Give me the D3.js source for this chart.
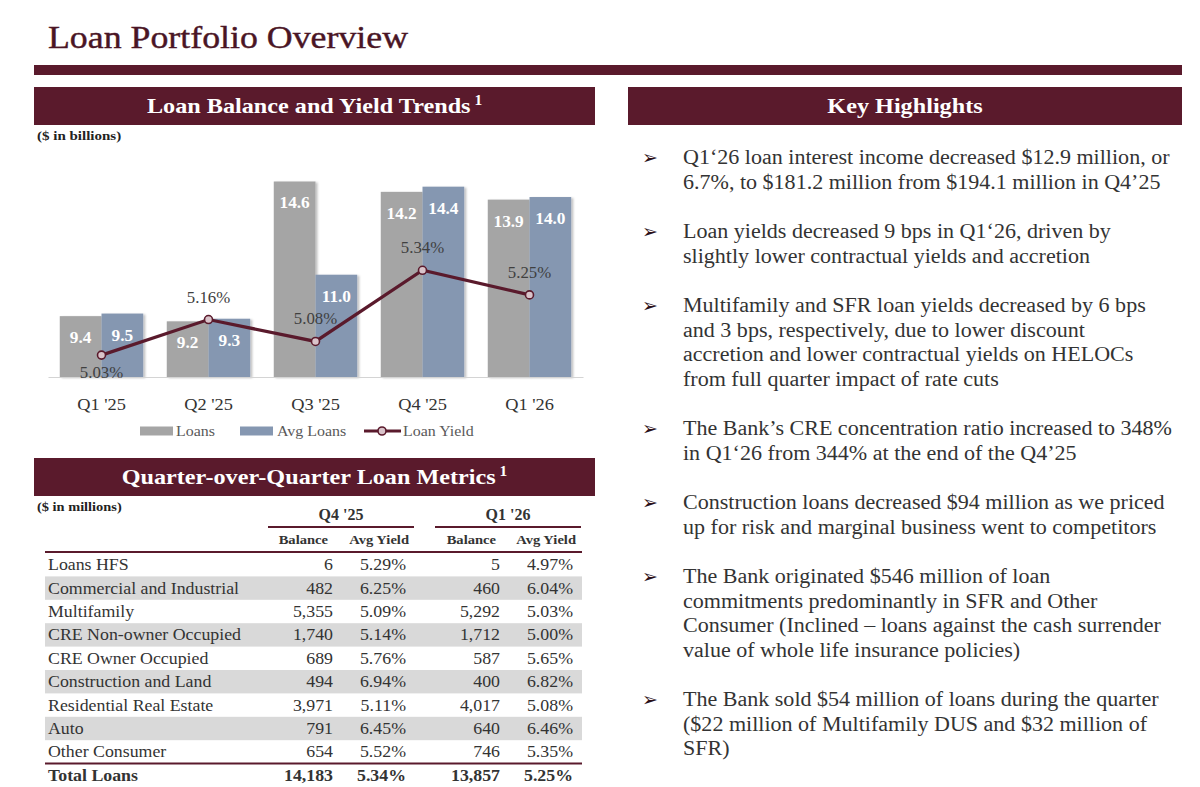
<!DOCTYPE html>
<html>
<head>
  <meta charset="utf-8">
  <title>Loan Portfolio Overview</title>
  <style>
  body { margin: 0; background: #fff; }
  svg { display: block; font-family: "Liberation Serif", "DejaVu Serif", serif; }
  .hdr { fill: #5a1a2c; }
  .hdr-text { fill: #fff; font-weight: bold; font-size: 22px; text-anchor: middle; }
  </style>
</head>
<body>
  <div id="page"></div>
  <script src="https://d3js.org/d3.v7.min.js"></script>
  <script>
    // chart data
    var quarters = ["Q1 '25", "Q2 '25", "Q3 '25", "Q4 '25", "Q1 '26"];
    var loans = [9.4, 9.2, 14.6, 14.2, 13.9];
    var avgLoans = [9.5, 9.3, 11.0, 14.4, 14.0];
    var loanYield = [5.03, 5.16, 5.08, 5.34, 5.25];

    // table data
    var rowLabels = ["Loans HFS", "Commercial and Industrial", "Multifamily", "CRE Non-owner Occupied",
      "CRE Owner Occupied", "Construction and Land", "Residential Real Estate", "Auto", "Other Consumer"];
    var q4Balance = [6, 482, 5355, 1740, 689, 494, 3971, 791, 654];
    var q4Yield = [5.29, 6.25, 5.09, 5.14, 5.76, 6.94, 5.11, 6.45, 5.52];
    var q1Balance = [5, 460, 5292, 1712, 587, 400, 4017, 640, 746];
    var q1Yield = [4.97, 6.04, 5.03, 5.00, 5.65, 6.82, 5.08, 6.46, 5.35];
    var totalRow = ["Total Loans", 14183, 5.34, 13857, 5.25];

    var highlights = [
      ["Q1\u201826 loan interest income decreased $12.9 million, or",
       "6.7%, to $181.2 million from $194.1 million in Q4\u201925"],
      ["Loan yields decreased 9 bps in Q1\u201826, driven by",
       "slightly lower contractual yields and accretion"],
      ["Multifamily and SFR loan yields decreased by 6 bps",
       "and 3 bps, respectively, due to lower discount",
       "accretion and lower contractual yields on HELOCs",
       "from full quarter impact of rate cuts"],
      ["The Bank\u2019s CRE concentration ratio increased to 348%",
       "in Q1\u201826 from 344% at the end of the Q4\u201925"],
      ["Construction loans decreased $94 million as we priced",
       "up for risk and marginal business went to competitors"],
      ["The Bank originated $546 million of loan",
       "commitments predominantly in SFR and Other",
       "Consumer (Inclined \u2013 loans against the cash surrender",
       "value of whole life insurance policies)"],
      ["The Bank sold $54 million of loans during the quarter",
       "($22 million of Multifamily DUS and $32 million of",
       "SFR)"]
    ];

    var maroon = "#5a1a2c";
    var grayBar = "#a5a5a5";
    var blueBar = "#8597b1";

    // the original face is a wide Palatino-like serif; widen Liberation Serif a bit
    function wide(sel, f) {
      sel.each(function() {
        var w = this.getComputedTextLength();
        d3.select(this).attr("textLength", w * f).attr("lengthAdjust", "spacingAndGlyphs");
      });
    }

    var svg = d3.select("#page").append("svg")
        .attr("width", 1200).attr("height", 787);

    var defs = svg.append("defs");
    defs.append("filter").attr("id", "shadow")
        .attr("x", "-10%").attr("y", "-10%").attr("width", "130%").attr("height", "130%")
      .append("feDropShadow")
        .attr("dx", 2).attr("dy", 1).attr("stdDeviation", 1)
        .attr("flood-color", "#000").attr("flood-opacity", 0.25);

    // page title + rule
    svg.append("text")
        .attr("x", 48).attr("y", 48)
        .attr("font-size", 31)
        .attr("fill", "#4a1525")
        .attr("stroke", "#4a1525").attr("stroke-width", 0.4)
        .attr("textLength", 360).attr("lengthAdjust", "spacingAndGlyphs")
        .text("Loan Portfolio Overview");
    svg.append("rect").attr("class", "hdr")
        .attr("x", 34).attr("y", 65).attr("width", 1148).attr("height", 10);

    function header(x, w, label) {
      svg.append("rect").attr("class", "hdr")
          .attr("x", x).attr("y", label.y).attr("width", w).attr("height", 38);
      var t = svg.append("text").attr("class", "hdr-text")
          .attr("x", x + w / 2).attr("y", label.y + 26);
      t.text(label.text);
      if (label.sup) {
        t.append("tspan").attr("font-size", 14).attr("dy", -8).text(" " + label.sup);
      }
      wide(t, 1.1);
    }

    header(34, 561, {y: 87, text: "Loan Balance and Yield Trends", sup: "1"});
    header(628, 554, {y: 87, text: "Key Highlights"});
    header(34, 561, {y: 458, text: "Quarter-over-Quarter Loan Metrics", sup: "1"});

    svg.append("text")
        .attr("x", 37).attr("y", 140)
        .attr("font-size", 12.5).attr("font-weight", "bold").attr("fill", "#222")
        .text("($ in billions)")
        .call(wide, 1.2);

    // ---------- bar + line chart ----------
    var x0 = d3.scaleBand()
        .domain(quarters)
        .range([48, 583])
        .paddingInner(0.22)
        .paddingOuter(0.11);

    var x1 = d3.scaleBand()
        .domain(["loans", "avg"])
        .range([0, x0.bandwidth()]);

    var y = d3.scaleLinear()
        .domain([7.05, 15.43])
        .range([377, 160]);

    var y2 = d3.scaleLinear()
        .domain([4.95, 5.743])
        .range([377, 160]);

    var chart = svg.append("g");

    var groups = chart.selectAll("g.grp")
      .data(quarters.map(function(q, i) {
        return {q: q, values: [{k: "loans", v: loans[i]}, {k: "avg", v: avgLoans[i]}]};
      }))
      .enter().append("g")
        .attr("class", "grp")
        .attr("transform", function(d) { return "translate(" + x0(d.q) + ",0)"; });

    groups.selectAll("rect")
      .data(function(d) { return d.values; })
      .enter().append("rect")
        .attr("x", function(d) { return x1(d.k); })
        .attr("y", function(d) { return y(d.v); })
        .attr("width", x1.bandwidth())
        .attr("height", function(d) { return y(y.domain()[0]) - y(d.v); })
        .attr("fill", function(d) { return d.k === "loans" ? grayBar : blueBar; })
        .attr("filter", "url(#shadow)");

    groups.selectAll("text")
      .data(function(d) { return d.values; })
      .enter().append("text")
        .attr("x", function(d) { return x1(d.k) + x1.bandwidth() / 2; })
        .attr("y", function(d) { return y(d.v) + 27; })
        .attr("text-anchor", "middle")
        .attr("font-size", 16)
        .attr("font-weight", "bold")
        .attr("fill", "#fff")
        .text(function(d) { return d.v.toFixed(1); })
        .call(wide, 1.08);

    var xAxis = chart.append("g")
        .attr("transform", "translate(0," + y.range()[0] + ")")
        .call(d3.axisBottom(x0).tickSize(0).tickPadding(21));
    xAxis.select(".domain").attr("stroke", "#d4d4d4").attr("stroke-width", 1.2);
    xAxis.selectAll("text")
        .attr("font-family", "Liberation Serif, serif")
        .attr("font-size", 17)
        .attr("fill", "#333")
        .call(wide, 1.08);

    var line = d3.line()
        .x(function(d, i) { return x0(quarters[i]) + x0.bandwidth() / 2; })
        .y(function(d) { return y2(d); });

    chart.append("path")
        .datum(loanYield)
        .attr("d", line)
        .attr("fill", "none")
        .attr("stroke", "#5a1a2c")
        .attr("stroke-width", 3.2);

    chart.selectAll("circle.pt")
      .data(loanYield)
      .enter().append("circle")
        .attr("class", "pt")
        .attr("cx", function(d, i) { return x0(quarters[i]) + x0.bandwidth() / 2; })
        .attr("cy", function(d) { return y2(d); })
        .attr("r", 4)
        .attr("fill", "#d9c3ca")
        .attr("stroke", "#5a1a2c")
        .attr("stroke-width", 1.6);

    chart.selectAll("text.yl")
      .data(loanYield)
      .enter().append("text")
        .attr("class", "yl")
        .attr("x", function(d, i) { return x0(quarters[i]) + x0.bandwidth() / 2; })
        .attr("y", function(d, i) { return i === 0 ? y2(d) + 23 : y2(d) - 17; })
        .attr("text-anchor", "middle")
        .attr("font-size", 16)
        .attr("fill", "#404040")
        .text(function(d) { return d.toFixed(2) + "%"; })
        .call(wide, 1.05);

    // legend
    var legend = chart.append("g").attr("transform", "translate(0,431)");
    legend.append("rect").attr("x", 140).attr("y", -4.5).attr("width", 33).attr("height", 9).attr("fill", grayBar);
    legend.append("rect").attr("x", 240).attr("y", -4.5).attr("width", 33).attr("height", 9).attr("fill", blueBar);
    legend.append("line").attr("x1", 364).attr("x2", 401).attr("y1", 0).attr("y2", 0)
        .attr("stroke", "#5a1a2c").attr("stroke-width", 3);
    legend.append("circle").attr("cx", 382).attr("cy", 0).attr("r", 4)
        .attr("fill", "#d9c3ca").attr("stroke", "#5a1a2c").attr("stroke-width", 1.6);
    legend.selectAll("text")
      .data([[176, "Loans"], [277, "Avg Loans"], [403, "Loan Yield"]])
      .enter().append("text")
        .attr("x", function(d) { return d[0]; })
        .attr("y", 5)
        .attr("font-size", 14.5)
        .attr("fill", "#595959")
        .text(function(d) { return d[1]; })
        .call(wide, 1.1);

    // ---------- table ----------
    var table = svg.append("g");
    var fmtInt = d3.format(",");
    var fmtPct = function(v) { return v.toFixed(2) + "%"; };

    table.append("text")
        .attr("x", 37).attr("y", 511)
        .attr("font-size", 12.5).attr("font-weight", "bold").attr("fill", "#222")
        .text("($ in millions)")
        .call(wide, 1.15);

    var rowY = d3.scaleBand()
        .domain(d3.range(rowLabels.length + 1))
        .range([553, 787]);

    // shaded rows
    table.selectAll("rect.band")
      .data(rowLabels.map(function(d, i) { return i; }).filter(function(i) { return i % 2 === 1; }))
      .enter().append("rect")
        .attr("x", 45).attr("width", 537)
        .attr("y", function(i) { return rowY(i); })
        .attr("height", rowY.bandwidth())
        .attr("fill", "#d9d9d9");

    // column groups
    [["Q4 '25", 268, 414, 328, 409], ["Q1 '26", 435, 581, 496, 576]].forEach(function(g) {
      table.append("text")
          .attr("x", (g[1] + g[2]) / 2).attr("y", 520)
          .attr("text-anchor", "middle").attr("font-size", 16).attr("font-weight", "bold")
          .attr("fill", "#333").text(g[0]);
      table.append("line")
          .attr("x1", g[1]).attr("x2", g[2]).attr("y1", 527).attr("y2", 527)
          .attr("stroke", maroon).attr("stroke-width", 2);
      table.append("text")
          .attr("x", g[3]).attr("y", 544)
          .attr("text-anchor", "end").attr("font-size", 13).attr("font-weight", "bold")
          .attr("fill", "#333").text("Balance")
          .call(wide, 1.12);
      table.append("text")
          .attr("x", g[4]).attr("y", 544)
          .attr("text-anchor", "end").attr("font-size", 13).attr("font-weight", "bold")
          .attr("fill", "#333").text("Avg Yield")
          .call(wide, 1.12);
    });

    table.append("line")
        .attr("x1", 45).attr("x2", 582).attr("y1", 552).attr("y2", 552)
        .attr("stroke", maroon).attr("stroke-width", 2);

    var rows = rowLabels.map(function(label, i) {
      return [label, q4Balance[i], q4Yield[i], q1Balance[i], q1Yield[i]];
    });
    rows.push(totalRow);

    var colX = [48, 333, 406, 500, 573];

    var rowG = table.selectAll("g.row")
      .data(rows)
      .enter().append("g")
        .attr("class", "row")
        .attr("transform", function(d, i) { return "translate(0," + (rowY(i) + rowY.bandwidth() / 2 + 5.5) + ")"; })
        .attr("font-weight", function(d, i) { return i === rows.length - 1 ? "bold" : "normal"; });

    rowG.selectAll("text")
      .data(function(d) {
        return d.map(function(v, j) {
          return {j: j, t: j === 0 ? v : (j % 2 === 1 ? fmtInt(v) : fmtPct(v))};
        });
      })
      .enter().append("text")
        .attr("x", function(d) { return colX[d.j]; })
        .attr("text-anchor", function(d) { return d.j === 0 ? "start" : "end"; })
        .attr("font-size", 16.5)
        .attr("fill", "#333")
        .text(function(d) { return d.t; })
        .call(wide, 1.08);

    table.append("line")
        .attr("x1", 45).attr("x2", 582).attr("y1", rowY(rowLabels.length)).attr("y2", rowY(rowLabels.length))
        .attr("stroke", maroon).attr("stroke-width", 2);

    // ---------- key highlights ----------
    var hl = svg.append("g");
    var lineH = 24.5, gapH = 49.5, cy = 157.5;
    highlights.forEach(function(lines) {
      hl.append("text")
          .attr("x", 642).attr("y", cy + 6.5)
          .attr("font-family", "DejaVu Sans, sans-serif")
          .attr("font-size", 19)
          .attr("fill", "#2a0f18")
          .text("\u27A2");
      lines.forEach(function(s, k) {
        hl.append("text")
            .attr("x", 683).attr("y", cy + k * lineH + 6.5)
            .attr("font-size", 20.5)
            .attr("fill", "#333")
            .text(s)
            .call(wide, 1.075);
      });
      cy += (lines.length - 1) * lineH + gapH;
    });
  </script>
</body>
</html>
